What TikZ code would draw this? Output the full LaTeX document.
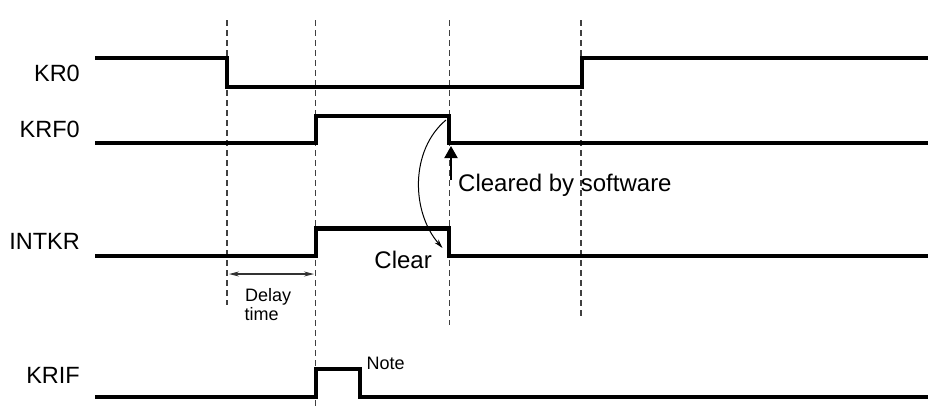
\documentclass[tikz,border=0pt]{standalone}
\usepackage{fontspec}
\setmainfont{Liberation Sans}
\usetikzlibrary{arrows.meta}
\begin{document}
\begin{tikzpicture}[x=1pt,y=-1pt,
  wave/.style={line width=4.5pt,line join=miter,line cap=butt},
  guide/.style={line width=1.4pt,draw={rgb,255:red,64;green,64;blue,64},dash pattern=on 6pt off 4pt},
  siglabel/.style={anchor=base east,inner sep=0pt,font=\fontsize{23.5}{26}\selectfont},
  bigtext/.style={inner sep=0pt,font=\fontsize{24}{27}\selectfont},
  smalltext/.style={inner sep=0pt,font=\fontsize{18}{21}\selectfont}]
\useasboundingbox (0,0) rectangle (928,408);
% guides
\draw[guide] (227,20) -- (227,305);
\draw[guide] (315.5,20) -- (315.5,408);
\draw[guide] (449.5,20) -- (449.5,325);
\draw[guide] (581,20) -- (581,317);
% labels
\node[siglabel] (lkr0) at (80,81) {KR0};
\node[siglabel] (lkrf0) at (80,137) {KRF0};
\node[siglabel] (lintkr) at (80,249) {INTKR};
\node[siglabel] (lkrif) at (80,383) {KRIF};
% waveforms
\draw[wave] (95,58) -- (227,58) -- (227,87) -- (582,87) -- (582,58) -- (928,58);
\draw[wave] (95,143) -- (316,143) -- (316,116) -- (449,116) -- (449,143) -- (928,143);
\draw[wave] (95,256) -- (316,256) -- (316,228.5) -- (449,228.5) -- (449,256) -- (928,256);
\draw[wave] (95,397) -- (316,397) -- (316,369) -- (360,369) -- (360,397) -- (928,397);
% delay time
\coordinate (d1) at (229,274);
\coordinate (d2) at (314,274);
\draw[line width=1.2pt,draw={rgb,255:red,50;green,50;blue,50},{Stealth[length=10pt,width=5pt]}-{Stealth[length=10pt,width=5pt]}] (d1) -- (d2);
\node[smalltext,anchor=base west] (delay) at (245,301) {Delay};
\node[smalltext,anchor=base west] (dtime) at (244.5,320) {time};
% clear curve
\coordinate (c1) at (446,120);
\coordinate (c2) at (442.5,248);
\draw[line width=1pt,-{Stealth[length=9pt,width=5pt]}] (c1) .. controls (410,150) and (411,212) .. (c2);
\node[bigtext,anchor=base east] (clear) at (432,268) {Clear};
% cleared by software
\coordinate (s1) at (451,180);
\coordinate (s2) at (451,146);
\draw[line width=2pt,-{Triangle[length=12pt,width=13pt]}] (s1) -- (s2);
\node[bigtext,anchor=base west] (csw) at (458,191) {Cleared by software};
% note
\node[smalltext,anchor=base west] (note) at (366.5,369) {Note};
\end{tikzpicture}
\end{document}
